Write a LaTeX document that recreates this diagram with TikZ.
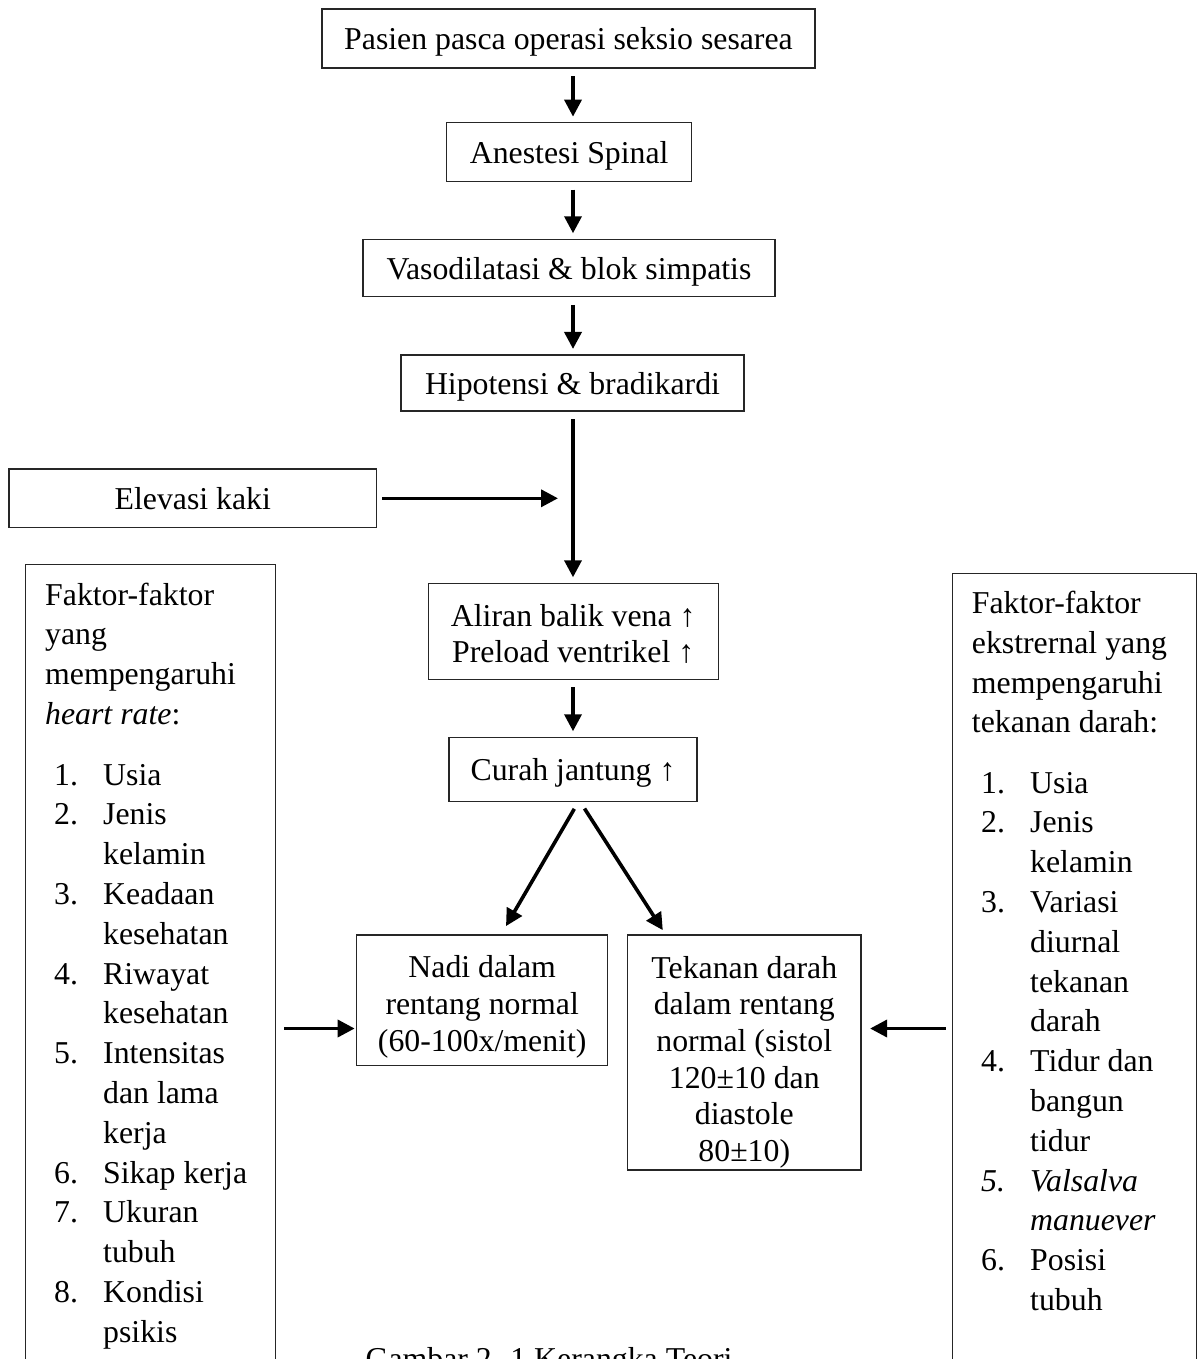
\documentclass[tikz,border=0pt]{standalone}
\usepackage{fontspec}
\setmainfont{Liberation Serif}
\usetikzlibrary{arrows.meta,calc}
\newcommand\mainfs{\fontsize{31.8pt}{36.7pt}\selectfont}
\begin{document}
\begin{tikzpicture}[x=1pt,y=-1pt,
  box/.style={draw=black!85, line width=1.1pt, inner sep=0pt, font=\mainfs, align=center},
  onebox/.style={box, text height=22pt, text depth=0pt},
  sidebox/.style={draw=black!85, line width=1.1pt, inner sep=0pt, anchor=north west},
  arr/.style={line width=3.6pt, -{Triangle[length=17pt,width=17pt]}, shorten <=7.5pt, shorten >=5.5pt},
  txt/.style={inner sep=0pt, anchor=base west, font=\mainfs},
]
\useasboundingbox (0,0) rectangle (1203,1359);
\clip (0,0) rectangle (1203,1359);

% main column boxes
\node[onebox, minimum width=493pt, minimum height=59pt] (b1) at (568.5,38.5) {Pasien pasca operasi seksio sesarea};
\node[onebox, minimum width=245pt, minimum height=59pt] (b2) at (569.2,152.2) {Anestesi Spinal};
\node[onebox, minimum width=412pt, minimum height=57.4pt] (b3) at (569,268) {Vasodilatasi \& blok simpatis};
\node[onebox, minimum width=343pt, minimum height=56pt] (b4) at (572.5,383) {Hipotensi \& bradikardi};
\node[onebox, minimum width=367.7pt, minimum height=58.7pt] (b5) at (192.8,498.3) {Elevasi kaki};
\node[box, minimum width=290pt, minimum height=95.7pt] (b6) at (573.2,631.2) {\rule{0pt}{27.5pt}Aliran balik vena ↑\\Preload ventrikel ↑};
\node[onebox, minimum width=248pt, minimum height=64.4pt] (b7) at (573,769.5) {Curah jantung ↑};
\node[box, minimum width=251pt, minimum height=130.7pt] (b8) at (482.2,1000.3) {\rule{0pt}{35.5pt}Nadi dalam\\rentang normal\\(60-100x/menit)};
\node[box, minimum width=233.3pt, minimum height=235pt] (b9) at (744.3,1052.5) {\rule{0pt}{41.5pt}Tekanan darah\\dalam rentang\\normal (sistol\\120±10 dan\\diastole\\80±10)};

% side boxes
\node[sidebox, minimum width=250pt, minimum height=836pt] (L) at (25,564) {};
\node[sidebox, minimum width=244.3pt, minimum height=830pt] (R) at (951.7,572.7) {};

% left box text
\foreach \tx [count=\i from 0] in {Faktor-faktor, yang, mempengaruhi, {\textit{heart rate}:}}
  \node[txt] (lh\i) at (45,{605+39.8*\i}) {\tx};
\foreach \nm/\tx [count=\i from 0] in {1./Usia, 2./Jenis, /kelamin, 3./Keadaan, /kesehatan, 4./Riwayat, /kesehatan, 5./Intensitas, /dan lama, /kerja, 6./Sikap kerja, 7./Ukuran, /tubuh, 8./Kondisi, /psikis}
  \node[txt] (li\i) at (54,{785+39.8*\i}) {\makebox[49pt][l]{\nm}\tx};

% right box text
\foreach \tx [count=\i from 0] in {Faktor-faktor, ekstrernal yang, mempengaruhi, tekanan darah:}
  \node[txt] (rh\i) at (971.7,{613.5+39.8*\i}) {\tx};
\foreach \nm/\tx [count=\i from 0] in {1./Usia, 2./Jenis, /kelamin, 3./Variasi, /diurnal, /tekanan, /darah, 4./Tidur dan, /bangun, /tidur, {\textit{5.}}/{\textit{Valsalva}}, /{\textit{manuever}}, 6./Posisi, /tubuh}
  \node[txt] (ri\i) at (981,{793+39.8*\i}) {\makebox[49pt][l]{\nm}\tx};

% caption (cut by the lower edge, as in the reference)
\node[txt, anchor=base] (cap) at (549,1369) {Gambar 2. 1 Kerangka Teori};

% connectors
\coordinate (col) at (573,0);
\draw[arr] (b1.south -| col) -- (b2.north -| col);
\draw[arr] (b2.south -| col) -- (b3.north -| col);
\draw[arr] (b3.south -| col) -- (b4.north -| col);
\draw[arr] (b4.south -| col) -- (b6.north -| col);
\draw[arr] (b6.south -| col) -- (b7.north -| col);
\draw[arr, shorten <=5pt, shorten >=15pt] (b5.east) -- (b5.east -| col);
\draw[arr, shorten <=0pt, shorten >=0pt] ($(b7.south)+(1.3,6.6)$) -- ($(b8.north)+(23.8,-8.3)$);
\draw[arr, shorten <=0pt, shorten >=0pt] ($(b7.south)+(11.5,6.3)$) -- ($(b9.north)+(-81.5,-4.3)$);
\coordinate (lt) at ($(b8.south west)+(-1.5,-37.7)$);
\draw[arr, shorten <=8pt, shorten >=0pt] (lt -| L.east) -- (lt);
\coordinate (rt) at ($(b9.east |- lt)+(8.6,0)$);
\draw[arr, shorten <=6pt, shorten >=0pt] (rt -| R.west) -- (rt);
\end{tikzpicture}
\end{document}
